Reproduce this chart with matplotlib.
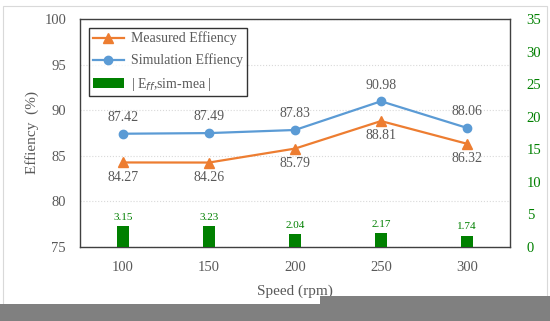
import matplotlib.pyplot as plt
from matplotlib.patches import Rectangle

plt.rcParams['font.family'] = ['Liberation Serif', 'DejaVu Serif']

speeds = ['100', '150', '200', '250', '300']
measured = [84.27, 84.26, 85.79, 88.81, 86.32]
simulation = [87.42, 87.49, 87.83, 90.98, 88.06]
diff = [3.15, 3.23, 2.04, 2.17, 1.74]

orange = '#ED7D31'
blue = '#5B9BD5'
green = '#008000'
grey_txt = '#595959'

fig = plt.figure(figsize=(5.5, 3.21), dpi=100)
W, H = 550, 321

# outer chart frame and the grey band at the bottom
fig.patches.append(Rectangle((3 / W, 0), 544 / W, 1 - 6 / H, transform=fig.transFigure,
                             facecolor='white', edgecolor='#d9d9d9', lw=0.8, zorder=-1))
fig.patches.append(Rectangle((0, 0), 320 / W, 17 / H, transform=fig.transFigure,
                             facecolor='#808080', edgecolor='none', zorder=5))
fig.patches.append(Rectangle((320 / W, 0), 230 / W, 25 / H, transform=fig.transFigure,
                             facecolor='#808080', edgecolor='none', zorder=5))

ax = fig.add_axes([80 / W, 1 - 247 / H, 430 / W, 228 / H])
ax.patch.set_alpha(0)
x = list(range(len(speeds)))

ax.plot(x, measured, color=orange, marker='^', ms=6.5, lw=1.6, label='Measured Effiency', zorder=4)
ax.plot(x, simulation, color=blue, marker='o', ms=6, lw=1.6, label='Simulation Effiency', zorder=4)

ax.set_xlim(-0.5, 4.5)
ax.set_ylim(75, 100)
ax.set_yticks([75, 80, 85, 90, 95, 100])
ax.set_xticks(x)
ax.set_xticklabels(speeds)
ax.grid(axis='y', color='#d9d9d9', ls=':', lw=0.8)
ax.tick_params(length=0, labelsize=10.5, colors=grey_txt, pad=10)
for s in ax.spines.values():
    s.set_color('#404040')
    s.set_linewidth(1)
ax.set_ylabel('Effiency  (%)', fontsize=11, color=grey_txt, labelpad=4)
ax.set_xlabel('Speed (rpm)', fontsize=11, color=grey_txt, labelpad=8)

for i in x:
    ax.annotate(f'{simulation[i]:.2f}', (i, simulation[i]), xytext=(0, 7),
                textcoords='offset points', ha='center', va='bottom', fontsize=10, color=grey_txt)
    ax.annotate(f'{measured[i]:.2f}', (i, measured[i]), xytext=(0, -6),
                textcoords='offset points', ha='center', va='top', fontsize=10, color=grey_txt)

ax2 = ax.twinx()
bars = ax2.bar(x, diff, width=0.15, color=green, label='| E$_{ff}$,sim-mea |', zorder=3)
ax2.set_ylim(0, 35)
ax2.set_yticks(range(0, 40, 5))
ax2.tick_params(length=0, labelsize=10.5, colors=green, pad=12)
for s in ax2.spines.values():
    s.set_visible(False)
for i in x:
    ax2.annotate(f'{diff[i]:.2f}', (i, diff[i]), xytext=(0, 3), textcoords='offset points',
                 ha='center', va='bottom', fontsize=8, color=green)

h1, l1 = ax.get_legend_handles_labels()
h2, l2 = ax2.get_legend_handles_labels()
leg = ax2.legend(h1 + h2, ['Measured Effiency', 'Simulation Effiency', '| E$_{ff}$,sim-mea |'],
                 loc='upper left', bbox_to_anchor=(0.021, 0.96), borderaxespad=0, fontsize=10,
                 frameon=True, fancybox=False, edgecolor='black', labelcolor=grey_txt,
                 handlelength=2.3, handletextpad=0.5, borderpad=0.25, labelspacing=0.6)
leg.get_frame().set_linewidth(1)

fig.savefig('out.png', dpi=100)
